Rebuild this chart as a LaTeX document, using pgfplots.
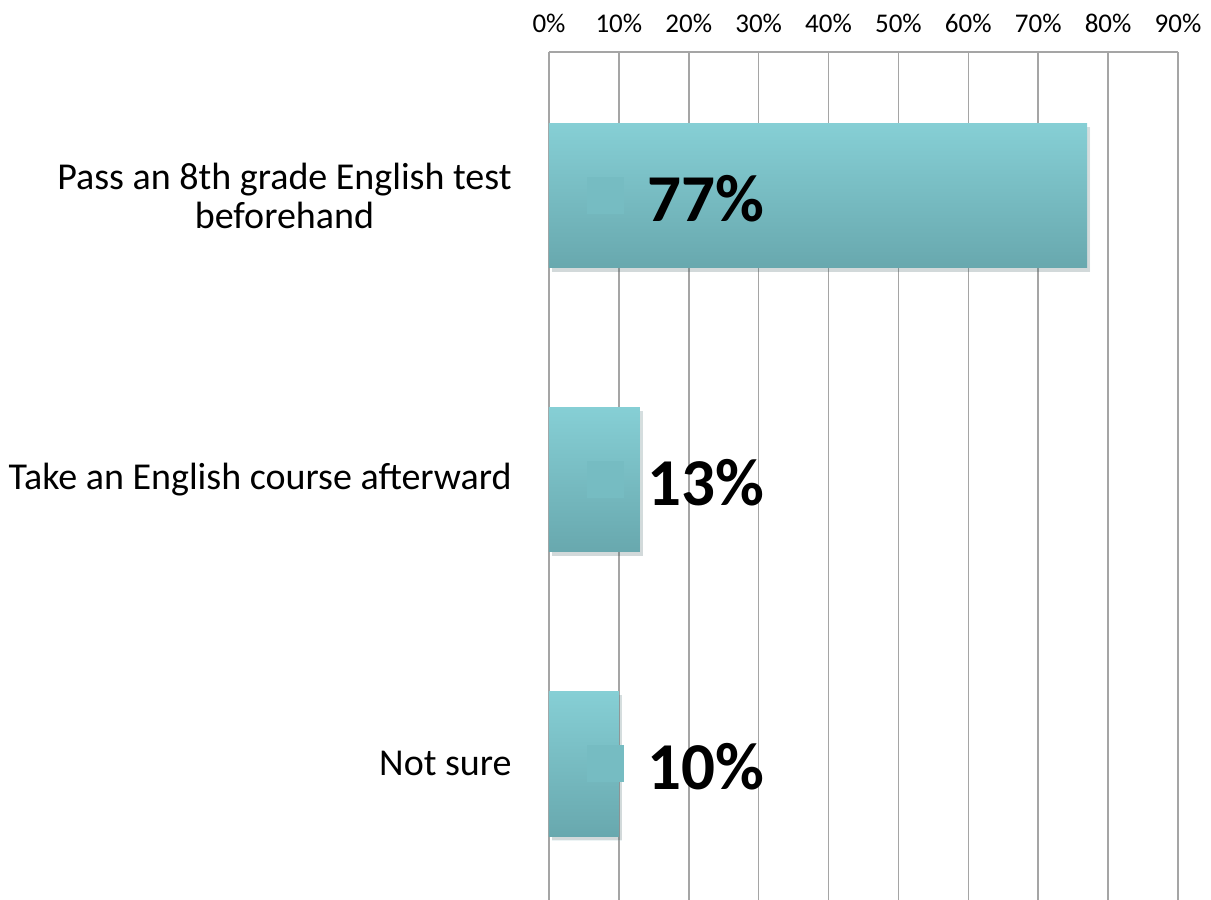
\documentclass[border=0pt]{standalone}
\usepackage{pgfplots}
\pgfplotsset{compat=1.18}
\usepackage{fontspec}
\setmainfont{Carlito}
\definecolor{bartop}{RGB}{134,207,213}
\definecolor{barbot}{RGB}{104,168,174}
\definecolor{sq}{RGB}{118,188,194}
\definecolor{gridc}{RGB}{165,165,165}
\begin{document}
\begin{tikzpicture}
\pgfplotsset{mybar/.style={xbar, bar width=0.51, bar shift=0pt, draw=none, mark=none,
    top color=bartop, bottom color=barbot,
    preaction={fill=black, opacity=0.12, transform canvas={shift={(1.5pt,-2pt)}}}}}
\begin{axis}[
  at={(274.5pt,0pt)}, anchor=south west,
  scale only axis, width=314.5pt, height=424pt,
  xmin=0, xmax=90, ymin=-0.505, ymax=2.48, y dir=reverse,
  axis x line*=top, axis y line*=left,
  axis line style={gridc, line width=0.8pt, -},
  xtick={0,10,...,90},
  xticklabels={0\%,10\%,20\%,30\%,40\%,50\%,60\%,70\%,80\%,90\%},
  xticklabel style={font=\fontsize{13.5}{16}\selectfont, anchor=base, inner sep=0pt, yshift=9.5pt},
  ytick={0,1,2},
  yticklabels={{Pass an 8th grade English test\\beforehand},{Take an English course afterward},{Not sure}},
  yticklabel style={font=\fontsize{19}{19.5}\selectfont, align=center, anchor=east, inner sep=0pt, xshift=-18.5pt},
  major tick length=0pt,
  xmajorgrids, major grid style={gridc, line width=0.8pt},
  clip=false,
]
\addplot[mybar] coordinates {(77,0)};
\addplot[mybar] coordinates {(13,1)};
\addplot[mybar] coordinates {(10,2)};
\addplot[only marks, mark=square*, mark size=9pt, color=sq, mark options={draw=none, fill=sq},
  point meta=explicit symbolic,
  nodes near coords={\pgfplotspointmeta\%},
  every node near coord/.append style={anchor=west, inner sep=0pt, xshift=21pt, yshift=-1.5pt, text=black,
    font=\bfseries\fontsize{33.5}{38}\selectfont}]
  coordinates {(8,0) [77] (8,1) [13] (8,2) [10]};
\end{axis}
\pgfresetboundingbox
\path[use as bounding box] (0,0) rectangle (605.5pt,450pt);
\end{tikzpicture}
\end{document}
